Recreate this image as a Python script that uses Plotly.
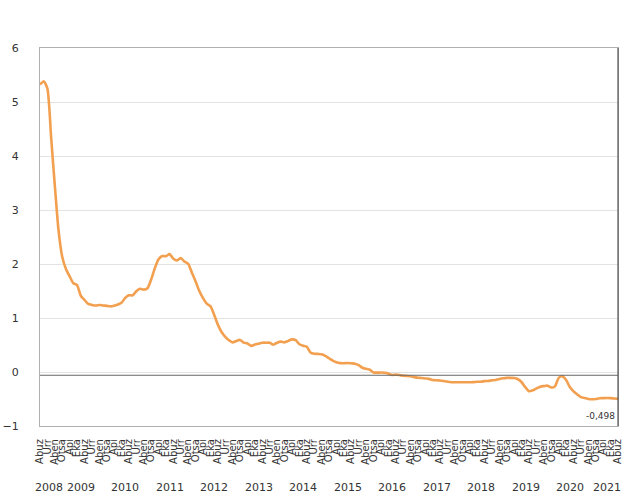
import plotly.graph_objects as go

# Monthly 12-month Euribor (%), Aug 2008 - Aug 2021
start_year = 2008
start_month = 8
rate = [
    # 2008 Aug-Dec
    5.323, 5.384, 5.248, 4.350, 3.452,
    # 2009
    2.622, 2.135, 1.909, 1.771, 1.644, 1.610, 1.412, 1.334, 1.261, 1.243, 1.231, 1.242,
    # 2010
    1.232, 1.225, 1.215, 1.225, 1.249, 1.281, 1.373, 1.421, 1.420, 1.495, 1.541, 1.526,
    # 2011
    1.550, 1.714, 1.924, 2.086, 2.147, 2.144, 2.183, 2.097, 2.067, 2.110, 2.044, 2.004,
    # 2012
    1.837, 1.678, 1.499, 1.368, 1.266, 1.219, 1.061, 0.877, 0.740, 0.650, 0.588, 0.549,
    # 2013
    0.575, 0.594, 0.545, 0.528, 0.484, 0.507, 0.525, 0.542, 0.543, 0.541, 0.506, 0.543,
    # 2014
    0.562, 0.549, 0.577, 0.604, 0.592, 0.513, 0.488, 0.469, 0.362, 0.338, 0.335, 0.329,
    # 2015
    0.298, 0.255, 0.212, 0.180, 0.165, 0.163, 0.167, 0.161, 0.154, 0.128, 0.079, 0.059,
    # 2016
    0.042, -0.008, -0.012, -0.010, -0.013, -0.028, -0.056, -0.048, -0.057, -0.069, -0.074, -0.080,
    # 2017
    -0.095, -0.106, -0.110, -0.119, -0.127, -0.149, -0.154, -0.156, -0.168, -0.180, -0.189, -0.190,
    # 2018
    -0.189, -0.191, -0.191, -0.190, -0.188, -0.181, -0.180, -0.169, -0.166, -0.154, -0.147, -0.129,
    # 2019
    -0.116, -0.108, -0.109, -0.112, -0.134, -0.190, -0.283, -0.356, -0.339, -0.304, -0.272, -0.261,
    # 2020
    -0.253, -0.288, -0.266, -0.108, -0.081, -0.147, -0.279, -0.359, -0.415, -0.466, -0.481, -0.499,
    # 2021 Jan-Aug
    -0.505, -0.501, -0.487, -0.484, -0.481, -0.484, -0.491, -0.498,
]

# short month names shown on the axis (every second month)
axis_month_names = {8: "Abuz", 10: "Urr", 12: "Aben", 2: "Otsa", 4: "Api", 6: "Eka"}

years = list(range(2008, 2022))
y_ticks = [-1, 0, 1, 2, 3, 4, 5, 6]

x = list(range(len(rate)))
months = [((start_month - 1 + i) % 12) + 1 for i in x]
year_of = [start_year + (start_month - 1 + i) // 12 for i in x]

tickvals = [i for i in x if i % 2 == 0]
ticktext = [axis_month_names[months[i]] for i in tickvals]

line_color = "#F2A04F"
font_family = "DejaVu Sans"

fig = go.Figure()
fig.add_trace(go.Scatter(
    x=x, y=rate, mode="lines",
    line=dict(color=line_color, width=2.6, shape="spline", smoothing=0.6),
    hoverinfo="skip", showlegend=False,
))

# value label on the last point
last = len(rate) - 1
fig.add_annotation(
    x=last, y=rate[last], text=f"{rate[last]:.3f}".replace(".", ","),
    showarrow=False, xanchor="right", yanchor="top", xshift=-1, yshift=-10,
    font=dict(family=font_family, size=9, color="#333333"),
)

# year labels centred under each year's months
for yr in years:
    idx = [i for i in x if year_of[i] == yr]
    centre = (idx[0] + idx[-1]) / 2
    fig.add_annotation(
        x=centre, y=0, xref="x", yref="paper", yshift=-61, xshift=2,
        text=str(yr), showarrow=False, yanchor="middle",
        font=dict(family=font_family, size=11, color="#333333"),
    )

# darker baseline just under zero, and darker right border
fig.add_shape(type="line", xref="paper", yref="y", x0=0, x1=1, y0=-0.06, y1=-0.06,
              line=dict(color="#666666", width=1.2))
fig.add_shape(type="line", xref="paper", yref="paper", x0=1, x1=1, y0=0, y1=1,
              line=dict(color="#555555", width=1.2))

fig.update_layout(
    width=632, height=495,
    margin=dict(l=40, r=14, t=48, b=69),
    paper_bgcolor="white", plot_bgcolor="white",
    font=dict(family=font_family, color="#333333"),
    xaxis=dict(
        range=[0, last], tickmode="array", tickvals=tickvals, ticktext=ticktext,
        tickangle=-90, tickfont=dict(size=10, color="#333333"),
        showgrid=False, zeroline=False, showline=True, linecolor="#B0B0B0",
        linewidth=1.2, mirror=True, ticks="", ticklabelstandoff=8,
        automargin=False,
    ),
    yaxis=dict(
        range=[-1, 6], tickmode="array", tickvals=y_ticks,
        tickfont=dict(size=11, color="#333333"),
        showgrid=True, gridcolor="#E3E3E3", gridwidth=1, zeroline=False,
        showline=True, linecolor="#B0B0B0", linewidth=1.2, mirror=True,
        ticks="", ticklabelstandoff=18, automargin=False,
    ),
)

fig.write_html("out.html")
